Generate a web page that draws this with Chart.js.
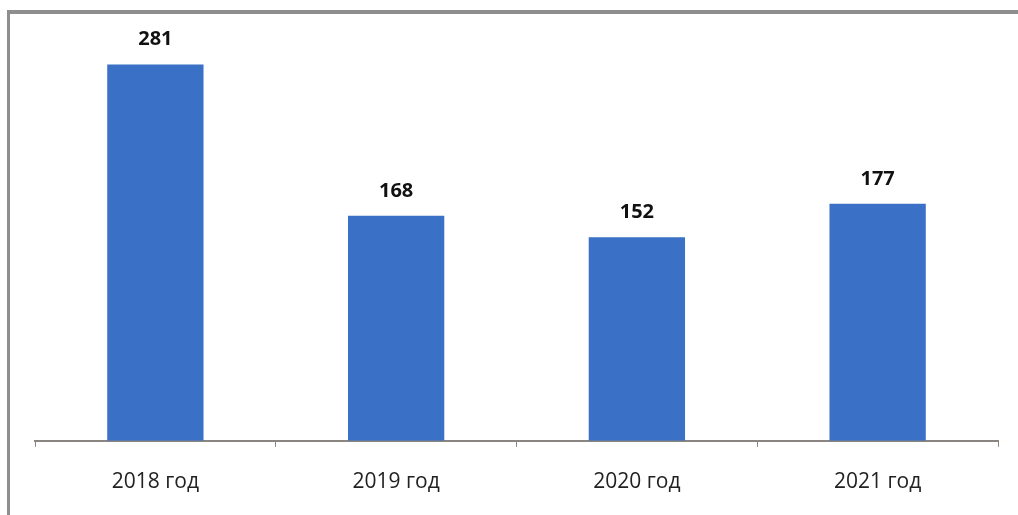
<!DOCTYPE html>
<html>
<head>
<meta charset="utf-8">
<script src="https://cdn.jsdelivr.net/npm/chart.js@4"></script>
<style>
  html, body { margin: 0; padding: 0; background: #ffffff; }
  #wrap { position: relative; width: 1018px; height: 515px; }
</style>
</head>
<body>
<div id="wrap"><canvas id="chart" width="1018" height="515"></canvas></div>
<script>
// Chart data
const years = ['2018 год', '2019 год', '2020 год', '2021 год'];
const counts = [281, 168, 152, 177];

// Gray frame at top/left (the rest is cropped off in the original)
const framePlugin = {
    id: 'frame',
    beforeDraw(chart) {
        const ctx = chart.ctx;
        ctx.save();
        ctx.fillStyle = '#8e8e8e';
        ctx.fillRect(7, 10, 1011, 4);
        ctx.fillRect(7, 10, 3, 505);
        ctx.restore();
    }
};

// Value labels above bars
const valueLabels = {
    id: 'valueLabels',
    afterDatasetsDraw(chart) {
        const ctx = chart.ctx;
        const meta = chart.getDatasetMeta(0);
        ctx.save();
        ctx.font = "bold 20px 'Open Sans', sans-serif";
        ctx.fillStyle = '#111111';
        ctx.textAlign = 'center';
        ctx.textBaseline = 'middle';
        meta.data.forEach((bar, i) => {
            ctx.fillText(counts[i], bar.x, bar.y - 25);
        });
        ctx.restore();
    }
};

new Chart(document.getElementById('chart'), {
    type: 'bar',
    data: {
        labels: years,
        datasets: [{
            data: counts,
            backgroundColor: '#3a70c5',
            borderWidth: 0,
            barPercentage: 0.4,
            categoryPercentage: 1.0
        }]
    },
    options: {
        responsive: false,
        animation: false,
        events: [],
        layout: { padding: { left: 35, right: 20, top: 15, bottom: -3 } },
        plugins: {
            legend: { display: false },
            tooltip: { enabled: false }
        },
        scales: {
            y: {
                display: false,
                min: 0,
                max: 318
            },
            x: {
                border: { display: true, color: '#8a8580', width: 2 },
                grid: {
                    offset: true,
                    drawOnChartArea: false,
                    drawTicks: true,
                    tickLength: 6,
                    color: '#8a8580',
                    lineWidth: 1
                },
                ticks: {
                    color: '#222222',
                    padding: 23,
                    font: { family: "'Open Sans', sans-serif", size: 21 }
                }
            }
        }
    },
    plugins: [framePlugin, valueLabels]
});
</script>
</body>
</html>
